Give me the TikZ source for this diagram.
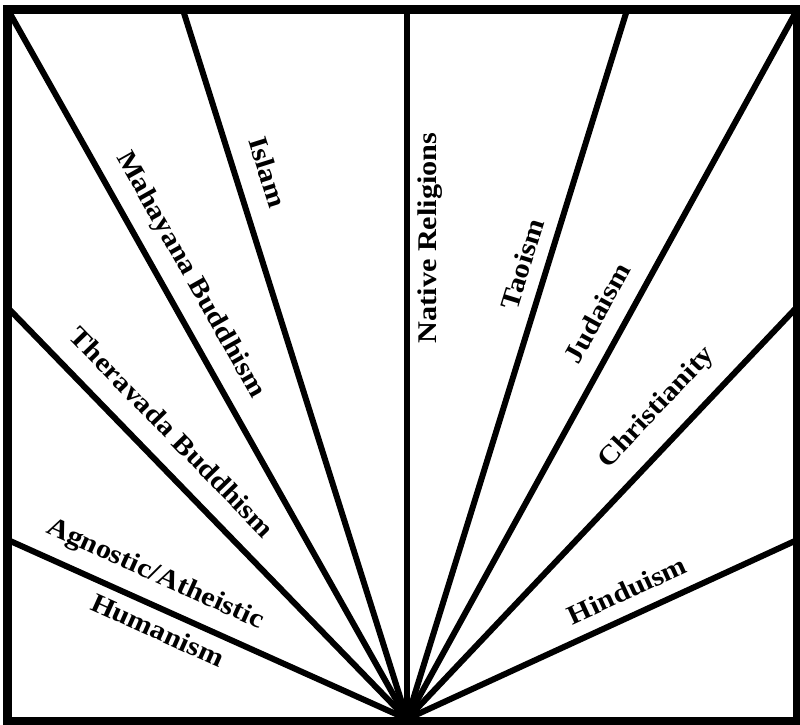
\documentclass[tikz,border=0pt]{standalone}
\usepackage{fontspec}
\setmainfont{Liberation Serif}[FakeStretch=1.12]
\begin{document}
\begin{tikzpicture}[x=1pt,y=-1pt,
  frame/.style={line width=9pt},
  ray/.style={line width=6pt,line cap=butt},
  lab/.style={font=\bfseries\fontsize{27}{27}\selectfont,inner sep=0pt}]
\useasboundingbox[fill=white] (0,0) rectangle (800,725);
% border
\draw[frame] (7.5,10) rectangle (797,721);
% apex and end points
\coordinate (A) at (407,719);
\coordinate (P1) at (8,10);
\coordinate (P2) at (183,10);
\coordinate (P3) at (407,10);
\coordinate (P4) at (627,10);
\coordinate (P5) at (797,10);
\coordinate (P6) at (797,307);
\coordinate (P7) at (797,540);
\coordinate (P8) at (8,308);
\coordinate (P9) at (8,540);
\foreach \p in {P1,P2,P3,P4,P5,P6,P7,P8,P9}{\draw[ray] (A) -- (\p);}
% labels
\node[lab,rotate=-60.6] (maha) at (190,275) {Mahayana Buddhism};
\node[lab,rotate=-72.5] (islam) at (268,172) {Islam};
\node[lab,rotate=90] (native) at (430,238) {Native Religions};
\node[lab,rotate=72.8] (tao) at (522,264) {Taoism};
\node[lab,rotate=61.2] (juda) at (597,313) {Judaism};
\node[lab,rotate=46.6] (chris) at (657,408) {Christianity};
\node[lab,rotate=24.7] (hindu) at (627,590) {Hinduism};
\node[lab,rotate=-45.8] (thera) at (172,432) {Theravada Buddhism};
\node[lab,rotate=-24.2] (agno) at (155,575) {Agnostic/Atheistic};
\node[lab,rotate=-24.2] (human) at (158,630) {Humanism};
\end{tikzpicture}
\end{document}
